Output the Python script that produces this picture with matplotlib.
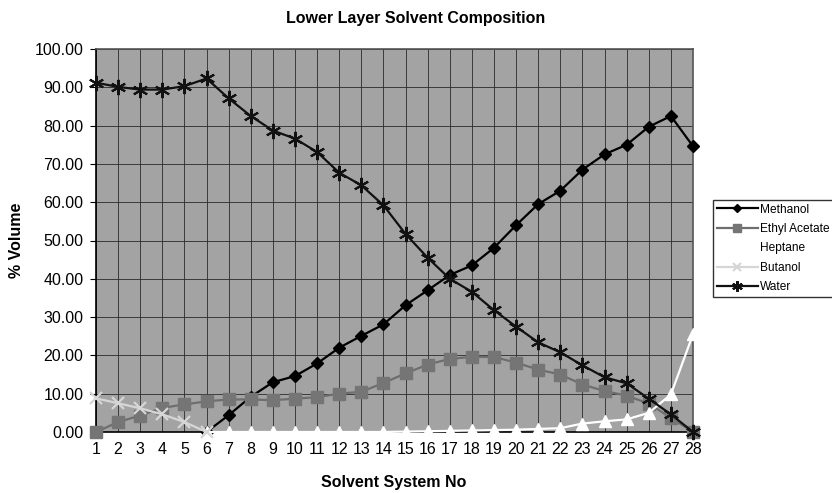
import numpy as np
import matplotlib.pyplot as plt

plt.rcParams['font.family'] = ['Liberation Sans', 'DejaVu Sans']

systems = list(range(1, 29))
nan = np.nan

methanol = [nan, nan, nan, nan, nan, 0.0, 4.4, 9.2, 13.0, 14.6, 17.9, 22.0, 25.1, 28.1,
            33.1, 37.0, 41.0, 43.5, 48.1, 54.0, 59.5, 63.0, 68.5, 72.5, 75.0, 79.7, 82.5, 74.6]
ethyl_acetate = [0.0, 2.6, 4.3, 6.3, 7.2, 8.0, 8.5, 8.5, 8.3, 8.7, 9.1, 10.0, 10.5, 12.8,
                 15.3, 17.6, 19.1, 19.6, 19.6, 18.1, 16.3, 15.0, 12.4, 10.7, 9.5, 7.4, 3.7, 0.0]
heptane = [nan, nan, nan, nan, nan, 0.0, 0.0, 0.0, 0.0, 0.0, 0.0, 0.0, 0.0, 0.0,
           0.1, 0.2, 0.3, 0.4, 0.5, 0.6, 0.8, 1.0, 2.2, 2.8, 3.3, 5.0, 9.8, 25.5]
butanol = [8.8, 7.5, 6.2, 4.6, 2.6, 0.0] + [nan] * 22
water = [91.2, 90.1, 89.4, 89.4, 90.3, 92.3, 87.1, 82.5, 78.7, 76.6, 73.1, 67.7, 64.4, 59.2,
         51.7, 45.5, 40.0, 36.6, 31.8, 27.5, 23.4, 20.8, 17.4, 14.3, 12.7, 8.7, 4.6, 0.0]

fig = plt.figure(figsize=(8.32, 4.93), dpi=100)
ax = fig.add_axes([96 / 832, 1 - 432 / 493, (693 - 96) / 832, (432 - 49) / 493])
ax.set_facecolor('#a3a3a3')

star = (6, 2, 0)
ax.plot(systems, methanol, color='black', lw=1.6, marker='D', ms=6, mfc='black', mec='black',
        label='Methanol', zorder=3, clip_on=False)
ax.plot(systems, ethyl_acetate, color='#6e6e6e', lw=1.6, marker='s', ms=8, mfc='#757575',
        mec='#757575', label='Ethyl Acetate', zorder=3, clip_on=False)
ax.plot(systems, heptane, color='white', lw=1.6, marker='^', ms=8, mfc='white', mec='white',
        label='Heptane', zorder=3, clip_on=False)
ax.plot(systems, butanol, color='#d6d6d6', lw=1.6, marker='x', ms=8, mew=1.6, mec='#d6d6d6',
        label='Butanol', zorder=3, clip_on=False)
ax.plot(systems, water, color='#111111', lw=1.6, marker=star, ms=11, mew=1.5, mec='#111111',
        label='Water', zorder=3, clip_on=False)

ax.set_xlim(1, 28)
ax.set_ylim(0, 100)
ax.set_xticks(systems)
ax.set_yticks(np.arange(0, 101, 10))
ax.yaxis.set_major_formatter(plt.FuncFormatter(lambda v, p: '%.2f' % v))
ax.grid(True, color='#2a2a2a', lw=0.6)
ax.set_axisbelow(True)
ax.tick_params(labelsize=11.5, length=4, color='black', pad=5)
ax.tick_params(axis='x', length=0, pad=7)

for s in ['top', 'right']:
    ax.spines[s].set_color('#555555')
    ax.spines[s].set_linewidth(1.2)
for s in ['left', 'bottom']:
    ax.spines[s].set_color('black')
    ax.spines[s].set_linewidth(1.2)

fig.text(416 / 832, 1 - 19 / 493, 'Lower Layer Solvent Composition',
         ha='center', va='center', fontsize=11.5, fontweight='bold')
fig.text(394 / 832, 1 - 483 / 493, 'Solvent System No',
         ha='center', va='center', fontsize=11.5, fontweight='bold')
fig.text(17 / 832, 1 - 240 / 493, '% Volume', rotation=90,
         ha='center', va='center', fontsize=11.5, fontweight='bold')

leg = fig.legend(loc='upper left', bbox_to_anchor=(713 / 832, 1 - 200 / 493), fontsize=8.6,
                 frameon=True, fancybox=False, edgecolor='black', handlelength=3.5,
                 handletextpad=0.1, labelspacing=0.62, borderpad=0.3, borderaxespad=0,
                 markerscale=0.7)
leg.get_frame().set_linewidth(1.0)

fig.savefig('out.png', dpi=100)
